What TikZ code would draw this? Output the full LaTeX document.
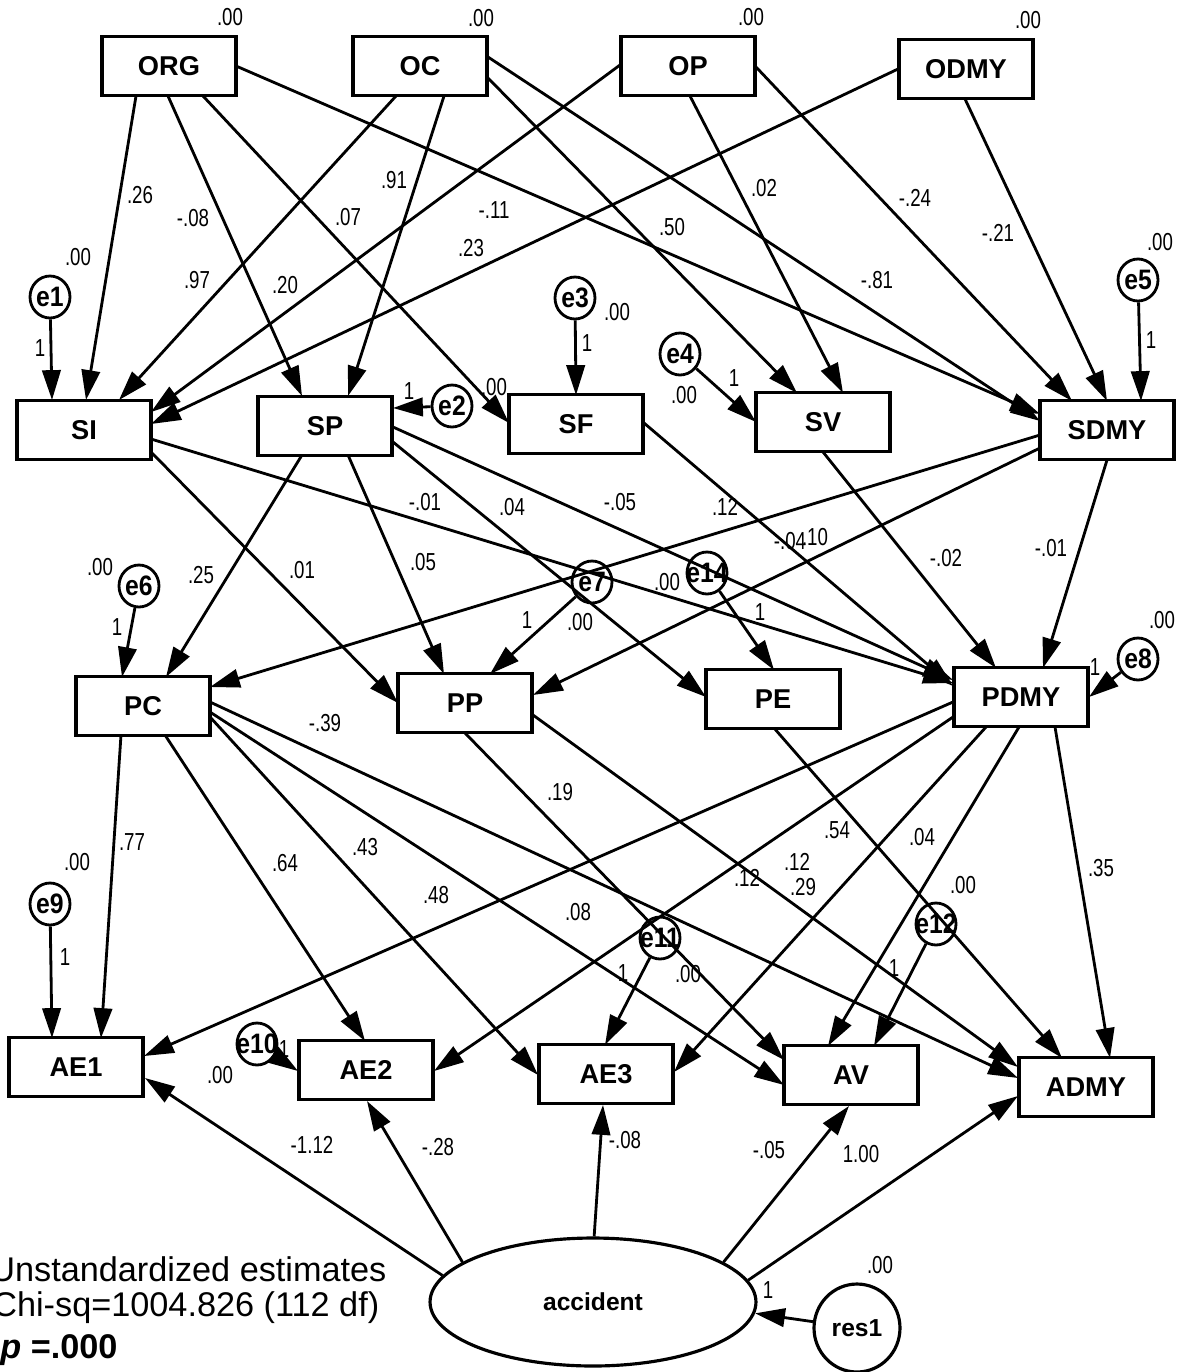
\documentclass[tikz,border=0pt]{standalone}
\usepackage{fontspec}
\setmainfont{Liberation Sans}
\newfontfamily\narrowf[FakeStretch=0.76]{Liberation Sans}
\newfontfamily\errf[FakeStretch=0.88]{Liberation Sans}
\usetikzlibrary{arrows.meta,calc,shapes.geometric}
\newcommand\zw[1]{\makebox[0pt]{#1}}
\newcommand\lb[3]{\node[lbl] (#1) at (#2) {#3};}
\newcommand\ed[4]{\draw[arr] ($(#1)+(#2)$) -- ($(#3)+(#4)$);}
\begin{document}
\begin{tikzpicture}[x=0.02cm,y=-0.02cm,
 box/.style={draw,line width=2pt,minimum width=2.68cm,minimum height=1.18cm,inner sep=0pt,font=\bfseries\fontsize{15.5}{15.5}\selectfont},
 err/.style={draw,ellipse,line width=1.6pt,minimum width=0.8cm,minimum height=0.84cm,inner sep=0pt,font=\errf\bfseries\fontsize{16}{16}\selectfont},
 lat/.style={draw,ellipse,line width=1.8pt,inner sep=0pt,font=\bfseries\fontsize{14}{14}\selectfont},
 lbl/.style={inner sep=0pt,font=\narrowf\fontsize{14}{14}\selectfont},
 arr/.style={line width=1.6pt,-{Triangle[length=17pt,width=10.5pt]}},
 big/.style={anchor=west,inner sep=0pt,font=\fontsize{19.5}{19.5}\selectfont}]
\fill[white] (0,0) rectangle (1194,1372);
\useasboundingbox (0,0) rectangle (1194,1372);
% observed boxes
\node[box] (ORG) at (169,66) {ORG};
\node[box] (OC) at (420,66) {OC};
\node[box] (OP) at (688,66) {OP};
\node[box] (ODMY) at (966,69) {ODMY};
\node[box] (SI) at (84,430) {SI};
\node[box] (SP) at (325,426) {SP};
\node[box] (SF) at (576,424) {SF};
\node[box] (SV) at (823,422) {SV};
\node[box] (SDMY) at (1107,430) {SDMY};
\node[box] (PC) at (143,706) {PC};
\node[box] (PP) at (465,703) {PP};
\node[box] (PE) at (773,699) {PE};
\node[box] (PDMY) at (1021,697) {PDMY};
\node[box] (AE1) at (76,1067) {AE1};
\node[box] (AE2) at (366,1070) {AE2};
\node[box] (AE3) at (606,1074) {AE3};
\node[box] (AV) at (851,1075) {AV};
\node[box] (ADMY) at (1086,1087) {ADMY};
% error terms
\node[err] (e1) at (50,297) {\zw{e1}};
\node[err] (e2) at (452,406) {\zw{e2}};
\node[err] (e3) at (575,298) {\zw{e3}};
\node[err] (e4) at (680,354) {\zw{e4}};
\node[err] (e5) at (1138,280) {\zw{e5}};
\node[err] (e6) at (139,586) {\zw{e6}};
\node[err] (e7) at (592,582) {\zw{e7}};
\node[err] (e14) at (707,573) {\zw{e14}};
\node[err] (e8) at (1138,659) {\zw{e8}};
\node[err] (e9) at (50,904) {\zw{e9}};
\node[err] (e10) at (257,1044) {\zw{e10}};
\node[err] (e11) at (660,938) {\zw{e11}};
\node[err] (e12) at (936,924) {\zw{e12}};
\node[lat,minimum width=6.52cm,minimum height=2.56cm] (acc) at (593,1302) {accident};
\node[lat,minimum width=1.72cm,minimum height=1.76cm] (res1) at (857,1328) {res1};
% top -> S
\ed{ORG}{-33,30}{SI}{2,-30}
\ed{ORG}{-1,30}{SP}{-23,-30}
\ed{ORG}{34,30}{SF}{-67,-1}
\ed{ORG}{67,0}{SDMY}{-67,-16}
\ed{OC}{-24,30}{SI}{35,-30}
\ed{OC}{24,30}{SP}{23,-30}
\ed{OC}{68,12}{SV}{-26,-29}
\ed{OC}{68,-9}{SDMY}{-67,-9}
\ed{OP}{-68,-1}{SI}{67,-18}
\ed{OP}{2,30}{SV}{20,-29}
\ed{OP}{68,1}{SDMY}{-35,-29}
\ed{ODMY}{-68,0}{SI}{67,-6}
\ed{ODMY}{-1,30}{SDMY}{0,-29}
\draw[arr] (e1) -- ($(SI)+(-32,-30)$);
\draw[arr] (e2) -- ($(SP)+(68,-18)$);
\draw[arr] (e3) -- ($(SF)+(0,-29)$);
\draw[arr] (e4) -- ($(SV)+(-67,0)$);
\draw[arr] (e5) -- ($(SDMY)+(34,-29)$);
% S -> P
\ed{SI}{67,22}{PP}{-67,0}
\ed{SI}{67,9}{PDMY}{-68,-14}
\ed{SP}{-23,29}{PC}{23,-29}
\ed{SP}{23,29}{PP}{-21,-29}
\ed{SP}{68,16}{PE}{-67,-2}
\ed{SP}{68,1}{PDMY}{-68,-17}
\ed{SF}{68,-1}{PDMY}{-68,-11}
\ed{SV}{0,30}{PDMY}{-25,-29}
\ed{SDMY}{-67,5}{PC}{67,-19}
\ed{SDMY}{-67,18}{PP}{68,-8}
\ed{SDMY}{0,30}{PDMY}{22,-29}
\draw[arr] (e6) -- ($(PC)+(-21,-29)$);
\draw[arr] (e7) -- ($(PP)+(25,-29)$);
\draw[arr] (e14) -- ($(PE)+(1,-29)$);
\draw[arr] (e8) -- ($(PDMY)+(68,0)$);
% P -> A
\ed{PC}{-22,29}{AE1}{25,-29}
\ed{PC}{22,29}{AE2}{-1,-29}
\ed{PC}{67,11}{AE3}{-68,1}
\ed{PC}{67,6}{AV}{-67,10}
\ed{PC}{67,-4}{ADMY}{-68,-9}
\ed{PP}{0,30}{AV}{-67,-15}
\ed{PP}{68,12}{ADMY}{-68,-20}
\ed{PE}{1,29}{ADMY}{-24,-29}
\ed{PDMY}{-68,5}{AE1}{68,-11}
\ed{PDMY}{-68,20}{AE2}{68,1}
\ed{PDMY}{-35,30}{AE3}{68,-2}
\ed{PDMY}{-2,30}{AV}{-23,-29}
\ed{PDMY}{34,30}{ADMY}{24,-29}
\draw[arr] (e9) -- ($(AE1)+(-24,-29)$);
\draw[arr] (e10) -- ($(AE2)+(-68,1)$);
\draw[arr] (e11) -- ($(AE3)+(-1,-29)$);
\draw[arr] (e12) -- ($(AV)+(23,-29)$);
% accident -> A
\draw[arr] (acc.170) -- ($(AE1)+(69,11)$);
\draw[arr] (acc.163) -- ($(AE2)+(1,31)$);
\draw[arr] (acc.89) -- ($(AE3)+(-3,31)$);
\draw[arr] (acc.17) -- ($(AV)+(-2,31)$);
\draw[arr] (acc.8) -- ($(ADMY)+(-68,9)$);
\draw[arr] (res1) -- (acc.-4);
% labels
\lb{v1}{230,17}{.00}
\lb{v2}{481,18}{.00}
\lb{v3}{751,17}{.00}
\lb{v4}{1028,20}{.00}
\lb{a1}{140,195}{.26}
\lb{a2}{193,218}{-.08}
\lb{a3}{348,217}{.07}
\lb{a4}{394,180}{.91}
\lb{a5}{494,210}{-.11}
\lb{a6}{471,248}{.23}
\lb{a7}{197,280}{.97}
\lb{a8}{285,285}{.20}
\lb{a9}{78,257}{.00}
\lb{a10}{764,188}{.02}
\lb{a11}{915,198}{-.24}
\lb{a12}{998,233}{-.21}
\lb{a13}{672,227}{.50}
\lb{a14}{877,280}{-.81}
\lb{a15}{1160,242}{.00}
\lb{b1}{40,348}{1}
\lb{b2}{409,391}{1}
\lb{b3}{494,387}{.00}
\lb{b4}{587,343}{1}
\lb{b5}{617,312}{.00}
\lb{b6}{734,378}{1}
\lb{b7}{684,395}{.00}
\lb{b8}{1151,340}{1}
\lb{c1}{425,502}{-.01}
\lb{c2}{512,507}{.04}
\lb{c3}{620,502}{-.05}
\lb{c4}{725,507}{.12}
\lb{c5}{790,541}{-.04}
\lb{c6}{815,537}{.10}
\lb{c7}{946,558}{-.02}
\lb{c8}{1051,548}{-.01}
\lb{c9}{423,562}{.05}
\lb{c10}{201,575}{.25}
\lb{c11}{302,570}{.01}
\lb{c12}{100,567}{.00}
\lb{c13}{667,582}{.00}
\lb{c14}{527,620}{1}
\lb{c15}{580,622}{.00}
\lb{c16}{760,612}{1}
\lb{c17}{117,627}{1}
\lb{c18}{1162,620}{.00}
\lb{c19}{1095,667}{1}
\lb{d1}{325,723}{-.39}
\lb{d2}{560,792}{.19}
\lb{d3}{132,842}{.77}
\lb{d4}{77,862}{.00}
\lb{d5}{285,863}{.64}
\lb{d6}{365,847}{.43}
\lb{d7}{436,895}{.48}
\lb{d8}{578,912}{.08}
\lb{d9}{837,830}{.54}
\lb{d10}{922,837}{.04}
\lb{d11}{797,862}{.12}
\lb{d12}{747,878}{.12}
\lb{d13}{803,887}{.29}
\lb{d14}{963,885}{.00}
\lb{d15}{1101,868}{.35}
\lb{f1}{65,957}{1}
\lb{f2}{284,1049}{1}
\lb{f3}{220,1075}{.00}
\lb{f4}{623,973}{1}
\lb{f5}{688,974}{.00}
\lb{f6}{894,968}{1}
\lb{g1}{312,1145}{-1.12}
\lb{g2}{438,1147}{-.28}
\lb{g3}{625,1140}{-.08}
\lb{g4}{769,1150}{-.05}
\lb{g5}{861,1154}{1.00}
\lb{g6}{768,1290}{1}
\lb{g7}{880,1265}{.00}
\node[big] (t1) at (-10,1269) {Unstandardized estimates};
\node[big] (t2) at (-8,1308) {Chi-sq=1004.826 (112 df)};
\node[big,font=\bfseries\fontsize{19.5}{19.5}\selectfont] (t3) at (0,1350) {\textit{p} =.000};
\end{tikzpicture}
\end{document}
